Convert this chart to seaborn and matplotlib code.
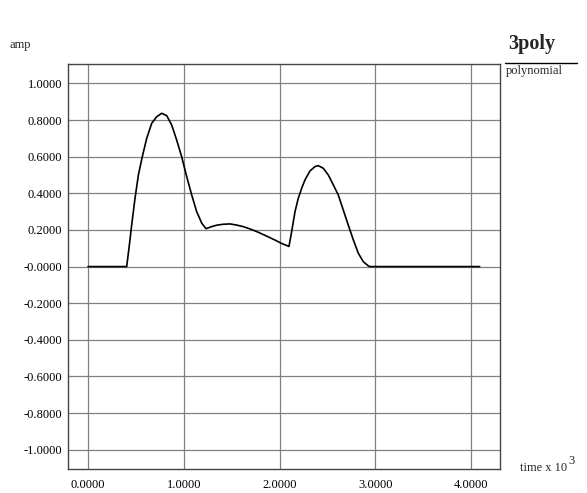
import matplotlib
matplotlib.use("Agg")
import matplotlib.pyplot as plt
import seaborn as sns
import pandas as pd
from matplotlib.lines import Line2D

# data (time in units of 10^3)
time = [0.0, 0.404, 0.432, 0.456, 0.491, 0.526, 0.567, 0.613, 0.665, 0.717, 0.770,
        0.822, 0.874, 0.926, 0.978, 1.031, 1.083, 1.135, 1.188, 1.232, 1.290, 1.344,
        1.410, 1.483, 1.550, 1.622, 1.690, 1.762, 1.830, 1.900, 1.960, 2.020, 2.099,
        2.127, 2.162, 2.196, 2.232, 2.266, 2.318, 2.371, 2.405, 2.457, 2.510, 2.562,
        2.614, 2.666, 2.718, 2.771, 2.823, 2.875, 2.927, 2.945, 4.090]
amp = [0.0, 0.0, 0.118, 0.227, 0.373, 0.500, 0.600, 0.700, 0.782, 0.818, 0.837,
       0.824, 0.773, 0.691, 0.600, 0.491, 0.391, 0.300, 0.237, 0.207, 0.218, 0.226,
       0.231, 0.233, 0.227, 0.218, 0.206, 0.191, 0.175, 0.158, 0.143, 0.127, 0.110,
       0.191, 0.300, 0.373, 0.428, 0.473, 0.522, 0.546, 0.551, 0.537, 0.500, 0.446,
       0.391, 0.309, 0.227, 0.146, 0.073, 0.027, 0.004, 0.0, 0.0]

xticks = [0, 1, 2, 3, 4]
xticklabels = ["0.0000", "1.0000", "2.0000", "3.0000", "4.0000"]
yticks = [-1.0, -0.8, -0.6, -0.4, -0.2, 0.0, 0.2, 0.4, 0.6, 0.8, 1.0]
yticklabels = ["-1.0000", "-0.8000", "-0.6000", "-0.4000", "-0.2000", "-0.0000",
               "0.2000", "0.4000", "0.6000", "0.8000", "1.0000"]

sns.set_style("white")
plt.rcParams['font.family'] = ['Liberation Serif', 'DejaVu Serif']

df = pd.DataFrame({"time": time, "amp": amp})

fig = plt.figure(figsize=(5.87, 4.93), dpi=100)
ax = fig.add_axes([68/587, 1-469/493, (500-68)/587, (469-64)/493])

sns.lineplot(data=df, x="time", y="amp", ax=ax, color="black", lw=1.2,
             estimator=None, sort=False, zorder=3)

ax.set_xlim(-0.209, 4.303)
ax.set_ylim(-1.105, 1.106)
ax.set_xticks(xticks)
ax.set_xticklabels(xticklabels, fontsize=9)
ax.set_yticks(yticks)
ax.set_yticklabels(yticklabels, fontsize=9)
ax.tick_params(axis='both', length=0, colors='black')
ax.tick_params(axis='x', pad=7)
ax.tick_params(axis='y', pad=4)
ax.grid(True, color='#808080', lw=0.9)
for s in ax.spines.values():
    s.set_color('#444444')
    s.set_linewidth(1.0)
ax.set_xlabel("")
ax.set_ylabel("")

fig.text(10/587, 1-45/493, "amp", fontsize=9, ha='left', va='center')
t = fig.text(520/587, 1-468/493, "time x 10", fontsize=9, ha='left', va='center')
fig.text(0, 0, "3", fontsize=9, ha='left', va='center',
         transform=matplotlib.transforms.offset_copy(fig.transFigure, fig=fig, x=0, y=0))
fig.texts[-1].remove()
ax.annotate("3", xy=(1.0, 0.55), xycoords=t, xytext=(1, 0), textcoords='offset points',
            ha='left', va='bottom', fontsize=9)
fig.text(532/587, 1-44/493, "3poly", fontsize=14.5, fontweight='bold', ha='center', va='center')
fig.lines.append(Line2D([505/587, 577/587], [1-63/493, 1-63/493], color='black', lw=1.0,
                        transform=fig.transFigure))
fig.text(506/587, 1-71/493, "polynomial", fontsize=9, ha='left', va='center')

fig.savefig("out.png", dpi=100)
